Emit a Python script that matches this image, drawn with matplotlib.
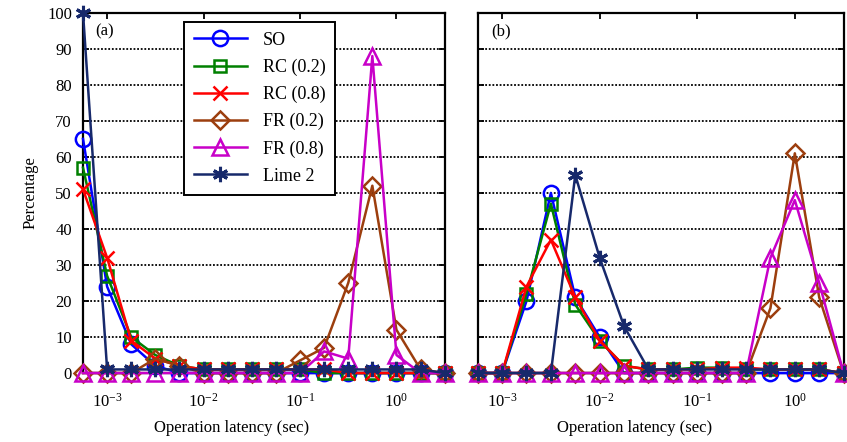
import numpy as np
import matplotlib
matplotlib.use("Agg")
import matplotlib.pyplot as plt

plt.rcParams['font.family'] = ['Liberation Serif', 'DejaVu Serif']
plt.rcParams['mathtext.fontset'] = 'stix'

# latency bins: 10^-3.25 ... 10^0.5 in quarter-decade steps
log_bins = [-3.25, -3.0, -2.75, -2.5, -2.25, -2.0, -1.75, -1.5,
            -1.25, -1.0, -0.75, -0.5, -0.25, 0.0, 0.25, 0.5]
latency = [10 ** v for v in log_bins]

names = ['SO', 'RC (0.2)', 'RC (0.8)', 'FR (0.2)', 'FR (0.8)', 'Lime 2']

# panel (a)
a_so = [65, 24, 8, 2, 0, 0, 0, 0, 0, 0, 0, 0, 0, 0, 0, 0]
a_rc2 = [57, 27, 10, 5, 2, 1, 1, 1, 1, 1, 0, 0, 0, 0, 0, 0]
a_rc8 = [51, 32, 9, 4, 2, 1, 1, 1, 1, 1, 1, 0, 0, 0, 0, 0]
a_fr2 = [0, 0, 0, 4, 2, 0, 0, 0, 0, 3.5, 7, 25, 52, 12, 1, 0]
a_fr8 = [0, 0, 0, 0, 0, 0, 0, 0, 0, 0, 6, 4, 88, 5, 0, 0]
a_lime = [100, 1, 1, 1, 1, 1, 1, 1, 1, 1, 1, 1, 1, 1, 1, 0]

# panel (b)
b_so = [0, 0, 20, 50, 21, 10, 0, 0, 0, 0, 0, 0, 0, 0, 0, 0]
b_rc2 = [0, 0, 22, 47, 19, 9, 2, 1, 1, 1.5, 1.5, 1, 1, 1, 1, 0]
b_rc8 = [0, 0, 24, 37, 21, 9, 2, 1, 1, 1, 1.5, 1.5, 1, 1, 1, 0]
b_fr2 = [0, 0, 0, 0, 0, 0, 0, 0, 0, 0, 0, 0, 18, 61, 21, 0]
b_fr8 = [0, 0, 0, 0, 0, 0, 0, 0, 0, 0, 0, 0, 32, 48, 25, 0]
b_lime = [0, 0, 0, 0, 55, 32, 13, 1, 1, 1, 1, 1, 1, 1, 1, 0]

colors = ['#0000ff', '#008000', '#ff0000', '#9c3e0e', '#c800c8', '#17296b']
markers = ['o', 's', 'x', 'D', '^', (6, 2, 0)]
sizes = [11, 9, 10, 9, 11, 11]

fig = plt.figure(figsize=(8.47, 4.42), dpi=100)
ax1 = fig.add_axes([0.098, 0.156, 0.427, 0.815])
ax2 = fig.add_axes([0.564, 0.156, 0.432, 0.815])

panels = [(ax1, [a_so, a_rc2, a_rc8, a_fr2, a_fr8, a_lime], '(a)', 0.033),
          (ax2, [b_so, b_rc2, b_rc8, b_fr2, b_fr8, b_lime], '(b)', 0.038)]

for ax, series, tag, tx in panels:
    for vals, name, c, m, s in zip(series, names, colors, markers, sizes):
        ax.plot(latency, vals, color=c, marker=m, ms=s, mfc='none',
                mew=2.2 if name == 'Lime 2' else 1.8,
                lw=1.8, label=name, clip_on=False, zorder=3)
    ax.set_xscale('log')
    ax.set_xlim(latency[0], latency[-1])
    ax.set_ylim(0, 100)
    ax.set_yticks(range(0, 101, 10))
    ax.set_xticks([1e-3, 1e-2, 1e-1, 1e0])
    ax.xaxis.set_minor_locator(matplotlib.ticker.NullLocator())
    for y in range(10, 100, 10):
        ax.axhline(y, color='black', lw=1.3, ls=(0, (1, 1)), zorder=1)
    ax.tick_params(direction='in', top=True, right=True, labelsize=12,
                   length=4, width=1.3)
    ax.tick_params(axis='x', pad=14)
    ax.tick_params(axis='y', pad=8)
    for sp in ax.spines.values():
        sp.set_linewidth(1.6)
    ax.set_xlabel('Operation latency (sec)', fontsize=12)
    ax.text(tx, 0.97, tag, transform=ax.transAxes, fontsize=12, va='top')

ax1.xaxis.set_label_coords(0.41, -0.13)
ax2.xaxis.set_label_coords(0.43, -0.13)
ax1.set_ylabel('Percentage', fontsize=12, labelpad=6)
ax2.set_yticklabels([])

leg = ax1.legend(loc='upper left', bbox_to_anchor=(0.28, 0.975), fontsize=13,
                 fancybox=False, framealpha=1, edgecolor='black',
                 handlelength=2.9, handletextpad=0.9, labelspacing=0.55,
                 borderpad=0.55, borderaxespad=0)
leg.get_frame().set_linewidth(1.4)
leg.set_zorder(5)

fig.savefig('out.png', dpi=100)
